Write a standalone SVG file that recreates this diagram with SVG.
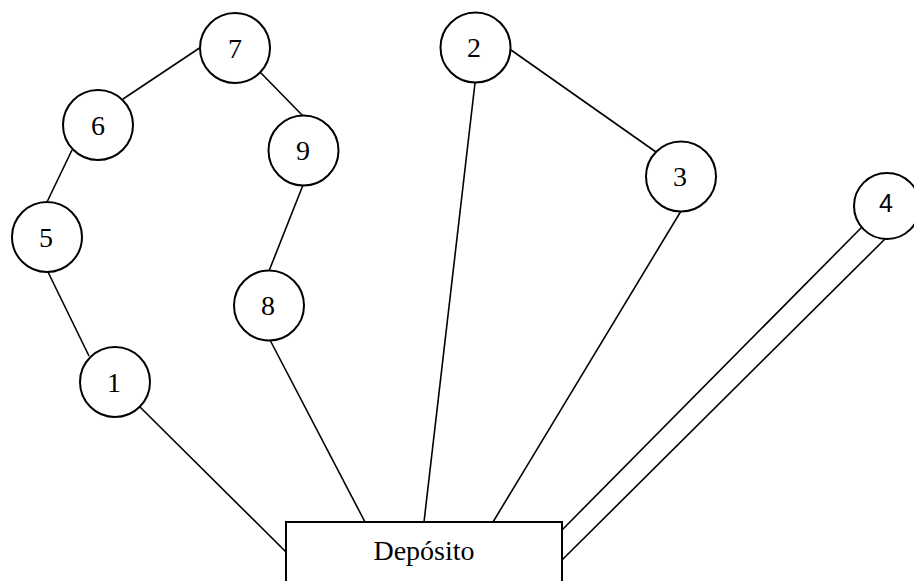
<svg xmlns="http://www.w3.org/2000/svg" width="914" height="581" viewBox="0 0 914 581">
<style>
.n{fill:#fff;stroke:#000;stroke-width:2}
.t{font-family:"Liberation Serif","Times New Roman",serif;font-size:28px;text-anchor:middle;fill:#000}
.s{font-family:"Liberation Sans",Arial,sans-serif;font-size:25px;text-anchor:middle;fill:#000}
.e{stroke:#000;stroke-width:1.6;fill:none}
</style>
<rect width="914" height="581" fill="#fff"/>
<g id="connectors">
<line class="e" x1="123" y1="99" x2="201" y2="47"/>
<line class="e" x1="260" y1="72" x2="303" y2="116"/>
<line class="e" x1="303" y1="185" x2="269" y2="271"/>
<line class="e" x1="72" y1="150" x2="47" y2="202"/>
<line class="e" x1="48" y1="272" x2="89" y2="356"/>
<line class="e" x1="140" y1="407" x2="286" y2="552"/>
<line class="e" x1="270" y1="340" x2="365" y2="522"/>
<line class="e" x1="475" y1="83" x2="424" y2="522"/>
<line class="e" x1="511" y1="50" x2="656" y2="152"/>
<line class="e" x1="681" y1="211" x2="493" y2="522"/>
<line class="e" x1="862" y1="227" x2="562" y2="530"/>
<line class="e" x1="887" y1="237" x2="562" y2="560"/>
</g>
<g id="node7"><circle class="n" cx="235" cy="48" r="35"/><text class="t" x="235" y="58">7</text></g>
<g id="node6"><circle class="n" cx="98" cy="125" r="35"/><text class="t" x="98" y="135">6</text></g>
<g id="node5"><circle class="n" cx="47" cy="237" r="35"/><text class="t" x="46" y="247">5</text></g>
<g id="node1"><circle class="n" cx="115" cy="382" r="35"/><text class="t" x="114" y="392">1</text></g>
<g id="node9"><circle class="n" cx="303.5" cy="150.5" r="35"/><text class="t" x="303" y="160">9</text></g>
<g id="node8"><circle class="n" cx="269" cy="305.5" r="35"/><text class="t" x="268" y="315">8</text></g>
<g id="node2"><circle class="n" cx="475.5" cy="47.5" r="35"/><text class="t" x="474" y="57">2</text></g>
<g id="node3"><circle class="n" cx="681" cy="176.5" r="35"/><text class="t" x="680" y="186">3</text></g>
<g id="node4"><circle class="n" cx="887" cy="206" r="33"/><text class="s" x="886" y="212">4</text></g>
<g id="deposito"><rect class="n" x="286" y="522" width="276" height="70"/><text class="t" x="424" y="560">Depósito</text></g>
</svg>
